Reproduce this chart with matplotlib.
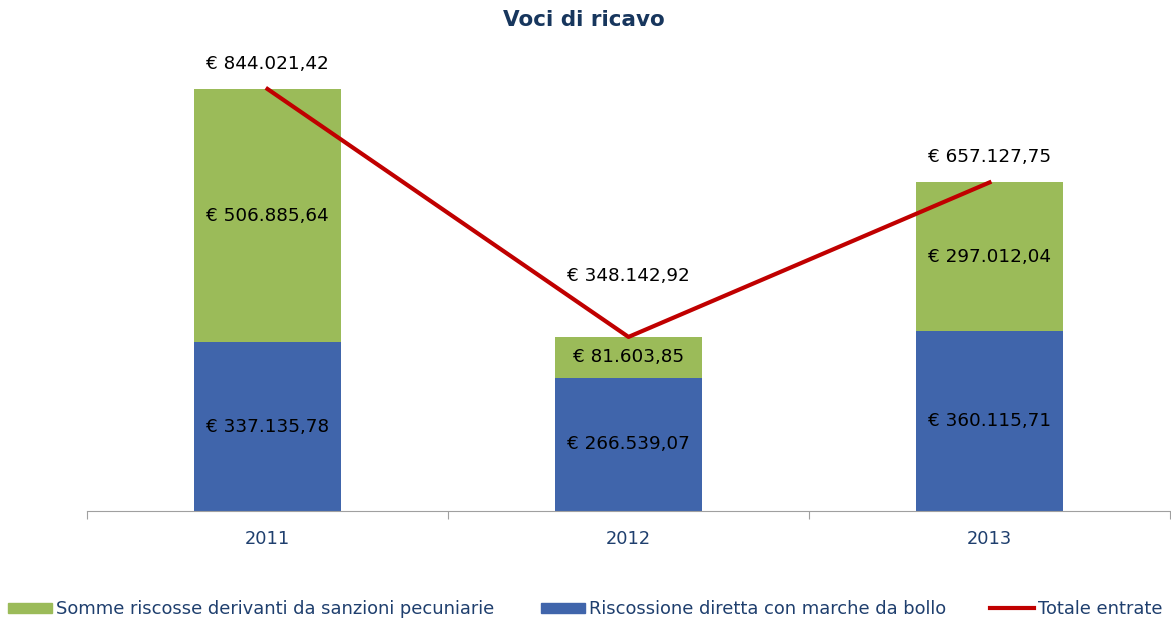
import matplotlib
matplotlib.use("Agg")
import matplotlib.pyplot as plt
from matplotlib.patches import Patch
from matplotlib.lines import Line2D
import numpy as np

years = ["2011", "2012", "2013"]
sanzioni = [506885.64, 81603.85, 297012.04]
marche = [337135.78, 266539.07, 360115.71]
totale = [844021.42, 348142.92, 657127.75]
legend_labels = ["Somme riscosse derivanti da sanzioni pecuniarie",
                 "Riscossione diretta con marche da bollo",
                 "Totale entrate"]

def fmt(v):
    s = f"{v:,.2f}"
    s = s.replace(",", "X").replace(".", ",").replace("X", ".")
    return "€ " + s

plt.rcParams['font.family'] = ['DejaVu Sans']
W, H = 1171, 619
fig = plt.figure(figsize=(W/100, H/100), dpi=100)
ax = fig.add_axes([87/W, (H-511)/H, (1170-87)/W, 450/H])

green = "#9BBB59"
blue = "#4065AB"
red = "#C00000"
txtc = "#1F3F6E"
fs = 13.2

x = np.arange(len(years))
bw = 0.405
ax.bar(x, marche, bw, color=blue, zorder=2)
ax.bar(x, sanzioni, bw, bottom=marche, color=green, zorder=2)
ax.plot(x, totale, color=red, lw=3, zorder=3)

for i in range(len(years)):
    ax.text(x[i], marche[i]/2, fmt(marche[i]), ha='center', va='center', fontsize=fs, color='black', zorder=4)
    ax.text(x[i], marche[i] + sanzioni[i]/2, fmt(sanzioni[i]), ha='center', va='center', fontsize=fs, color='black', zorder=4)

offs = [25, 61, 25]
for i in range(len(years)):
    ax.annotate(fmt(totale[i]), (x[i], totale[i]), xytext=(0, offs[i]*0.72), textcoords='offset points',
                ha='center', va='center', fontsize=fs, color='black', zorder=4)

ax.set_xlim(-0.5, 2.5)
ax.set_ylim(0, 900000)
ax.set_yticks([])
for s in ['top', 'right', 'left']:
    ax.spines[s].set_visible(False)
ax.spines['bottom'].set_color('#A0A0A0')
ax.set_xticks([-0.5, 0.5, 1.5, 2.5], minor=False)
ax.set_xticklabels([])
ax.tick_params(axis='x', which='major', length=6, color='#A0A0A0', direction='out')
ax.set_xticks(x, minor=True)
ax.set_xticklabels(years, minor=True)
ax.tick_params(axis='x', which='minor', length=0, pad=14, labelsize=12.8, labelcolor=txtc)

fig.text(584/W, 1-20/H, "Voci di ricavo", ha='center', va='center', fontsize=15.5, fontweight='bold', color="#17365D")

handles = [Patch(color=green), Patch(color=blue), Line2D([], [], color=red, lw=3)]
xpos = [8, 541, 990]
for h, lab, xp in zip(handles, legend_labels, xpos):
    leg = fig.legend([h], [lab], loc='center left', bbox_to_anchor=(xp/W, 1-609/H),
                     frameon=False, fontsize=12.9, handlelength=2.45, handleheight=0.5,
                     handletextpad=0.25, borderaxespad=0, borderpad=0)
    for t in leg.get_texts():
        t.set_color(txtc)

fig.savefig("out.png", dpi=100)
